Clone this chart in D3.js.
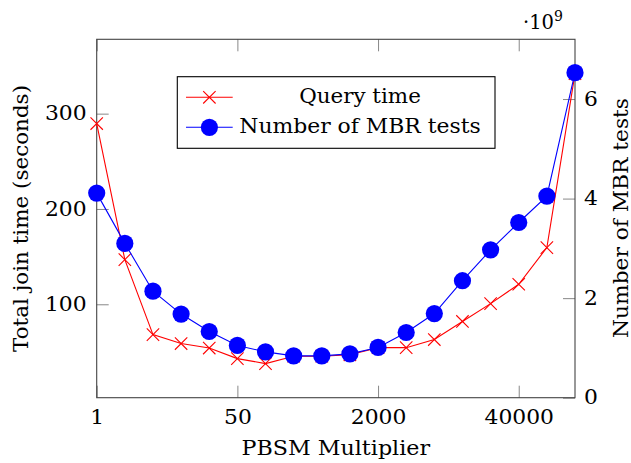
<!DOCTYPE html>
<html>
<head>
<meta charset="utf-8">
<script src="https://cdn.jsdelivr.net/npm/d3@7"></script>
<style>
  body { margin: 0; background: #fff; }
  text { font-family: "DejaVu Serif", serif; fill: #000; }
</style>
</head>
<body>
<div id="chart"></div>
<script>
// data
const steps = d3.range(18)                       // 18 multiplier settings, evenly spaced
const tickIdx = [0, 5, 10, 15]
const tickLabels = ["1", "50", "2000", "40000"]
const queryTime = [289.6, 146.9, 68.2, 58.8, 54.1, 43, 37.8, 45.5, 45.5, 47, 54.5, 54.5, 63, 82, 100.7, 121, 159.5, 342]
const mbrTests = [4.11, 3.10, 2.14, 1.68, 1.33, 1.05, 0.92, 0.84, 0.84, 0.88, 1.01, 1.31, 1.69, 2.35, 2.97, 3.52, 4.05, 6.53]
const leftTicks = [100, 200, 300]
const rightTicks = [0, 2, 4, 6]

const W = 631, H = 463
const m = { left: 96.7, top: 39.3, right: 56, bottom: 65.3 }
const w = W - m.left - m.right, h = H - m.top - m.bottom

const svg = d3.select("#chart").append("svg")
    .attr("width", W).attr("height", H)
const g = svg.append("g").attr("transform", `translate(${m.left},${m.top})`)

const x = d3.scaleLinear().domain([0, 17]).range([0, w])
const yL = d3.scaleLinear().domain([2, 378]).range([h, 0])
const yR = d3.scaleLinear().domain([0, 7.2]).range([h, 0])

const tickLen = 12
const fs = 19.5
const sx = 1.12   // the reference text is a bit wider than DejaVu

// axes with inward ticks (pgfplots style)
const xAxis = d3.axisBottom(x).tickValues(tickIdx).tickFormat((d, i) => tickLabels[i])
    .tickSizeInner(-tickLen).tickSizeOuter(0).tickPadding(12)
const xTop = d3.axisTop(x).tickValues(tickIdx).tickFormat("")
    .tickSizeInner(-tickLen).tickSizeOuter(0)
const lAxis = d3.axisLeft(yL).tickValues(leftTicks)
    .tickSizeInner(-tickLen).tickSizeOuter(0).tickPadding(9)
const rAxis = d3.axisRight(yR).tickValues(rightTicks)
    .tickSizeInner(-tickLen).tickSizeOuter(0).tickPadding(8)

function style(sel) {
    sel.select(".domain").remove()
    sel.selectAll(".tick line").attr("stroke", "#888").attr("stroke-width", 1)
    sel.selectAll(".tick text").attr("font-size", fs)
        .attr("font-family", "DejaVu Serif").attr("fill", "#000")
        .attr("transform", `scale(${sx},1)`)
}
g.append("g").attr("transform", `translate(0,${h})`).call(xAxis).call(style)
g.append("g").call(xTop).call(style)
g.append("g").call(lAxis).call(style)
g.append("g").attr("transform", `translate(${w},0)`).call(rAxis).call(style)

g.append("rect").attr("width", w).attr("height", h)
    .attr("fill", "none").attr("stroke", "#444").attr("stroke-width", 1.1)

// query time (red, x marks)
g.append("path").datum(queryTime)
    .attr("d", d3.line().x((d, i) => x(steps[i])).y(d => yL(d)))
    .attr("fill", "none").attr("stroke", "#ff0000").attr("stroke-width", 1.1)

const xs = 6.2
const crossPath = `M${-xs},${-xs}L${xs},${xs}M${-xs},${xs}L${xs},${-xs}`
g.selectAll(".qmark").data(queryTime).join("path")
    .attr("class", "qmark")
    .attr("transform", (d, i) => `translate(${x(steps[i])},${yL(d)})`)
    .attr("d", crossPath)
    .attr("stroke", "#ff0000").attr("stroke-width", 1.1).attr("fill", "none")

// MBR tests (blue, filled circles)
g.append("path").datum(mbrTests)
    .attr("d", d3.line().x((d, i) => x(steps[i])).y(d => yR(d)))
    .attr("fill", "none").attr("stroke", "#0000ff").attr("stroke-width", 1.1)
g.selectAll(".bmark").data(mbrTests).join("circle")
    .attr("class", "bmark")
    .attr("cx", (d, i) => x(steps[i])).attr("cy", d => yR(d))
    .attr("r", 8.6).attr("fill", "#0000ff")

// labels
svg.append("text").attr("x", 335.8).attr("y", 455).attr("text-anchor", "middle")
    .attr("font-size", fs).attr("textLength", 188.5).attr("lengthAdjust", "spacingAndGlyphs")
    .text("PBSM Multiplier")
svg.append("text").attr("transform", "translate(28,218.5) rotate(-90)")
    .attr("text-anchor", "middle").attr("font-size", fs)
    .attr("textLength", 267).attr("lengthAdjust", "spacingAndGlyphs")
    .text("Total join time (seconds)")
svg.append("text").attr("transform", "translate(627.5,218) rotate(-90)")
    .attr("text-anchor", "middle").attr("font-size", fs)
    .attr("textLength", 240).attr("lengthAdjust", "spacingAndGlyphs")
    .text("Number of MBR tests")
const exp = svg.append("text").attr("x", 523).attr("y", 29).attr("font-size", fs)
exp.append("tspan").text("·10")
exp.append("tspan").attr("dy", -8).attr("font-size", 14).text("9")

// legend
const lg = svg.append("g")
lg.append("rect").attr("x", 177.3).attr("y", 76.7).attr("width", 317.7).attr("height", 71.6)
    .attr("fill", "#fff").attr("stroke", "#000").attr("stroke-width", 1.1)
const rows = [
    { name: "Query time", color: "#ff0000", mark: "x", len: 121.7 },
    { name: "Number of MBR tests", color: "#0000ff", mark: "o", len: 241.5 }
]
rows.forEach((r, i) => {
    const cy = 97.3 + i * 30
    lg.append("line").attr("x1", 186).attr("x2", 232.7).attr("y1", cy).attr("y2", cy)
        .attr("stroke", r.color).attr("stroke-width", 1.1)
    if (r.mark === "x") {
        lg.append("path").attr("transform", `translate(209.4,${cy})`)
            .attr("d", crossPath)
            .attr("stroke", r.color).attr("stroke-width", 1.1)
    } else {
        lg.append("circle").attr("cx", 209.4).attr("cy", cy).attr("r", 8.6).attr("fill", r.color)
    }
    lg.append("text").attr("x", 360).attr("y", cy + 5.5).attr("text-anchor", "middle")
        .attr("font-size", fs).attr("textLength", r.len).attr("lengthAdjust", "spacingAndGlyphs")
        .text(r.name)
})
</script>
</body>
</html>
